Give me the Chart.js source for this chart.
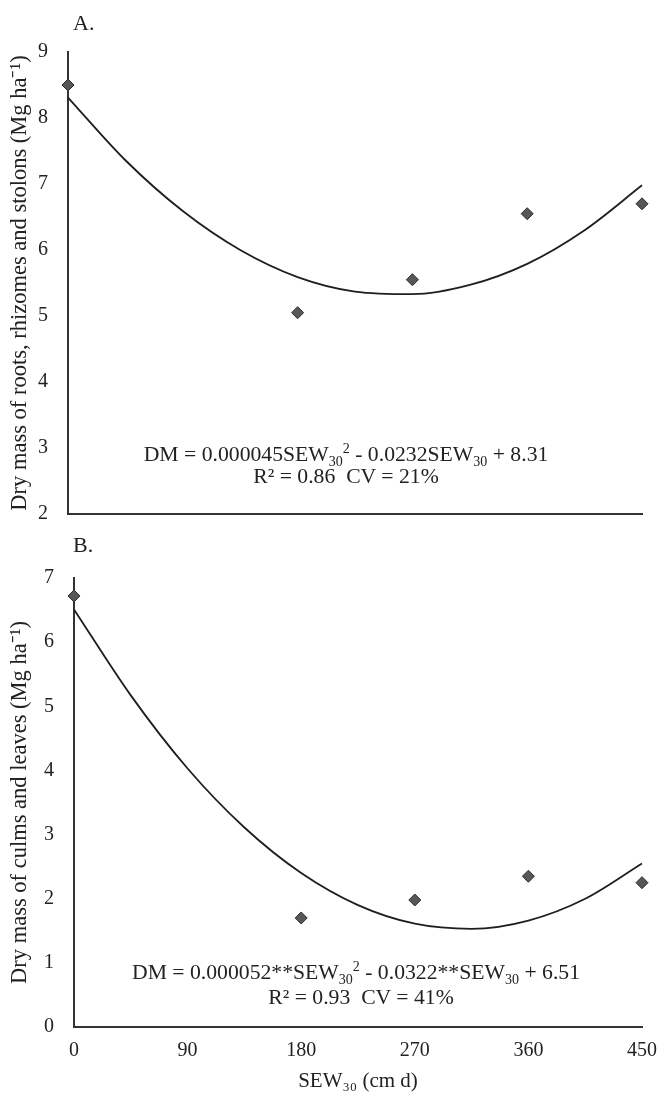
<!DOCTYPE html>
<html>
<head>
<meta charset="utf-8">
<script src="https://cdn.jsdelivr.net/npm/chart.js@4.4.1/dist/chart.umd.min.js"></script>
<style>
  html, body { margin:0; padding:0; background:#fff; }
  #wrap { position:relative; width:659px; height:1095px; font-family:'Liberation Serif','Times New Roman',serif; color:#222; }
  canvas { position:absolute; left:0; }
  .lbl { position:absolute; font-size:22px; line-height:1; }
  .eq { position:absolute; width:600px; text-align:center; font-size:21.7px; line-height:1; white-space:nowrap; }
  .eq sub { font-size:14px; vertical-align:-5px; line-height:0; }
  .eq sup { font-size:14px; vertical-align:8px; line-height:0; }
</style>
</head>
<body>
<div id="wrap">
  <canvas id="chartA" width="659" height="530" style="top:0"></canvas>
  <canvas id="chartB" width="659" height="565" style="top:530px"></canvas>
  <div class="lbl" style="left:73px;top:12px">A.</div>
  <div class="lbl" style="left:73px;top:534px">B.</div>
  <div class="eq" style="left:46px;top:444px">DM = 0.000045SEW<sub>30</sub><sup>2</sup> - 0.0232SEW<sub>30</sub> + 8.31</div>
  <div class="eq" style="left:46px;top:466px">R² = 0.86&nbsp; CV = 21%</div>
  <div class="eq" style="left:56px;top:962px">DM = 0.000052**SEW<sub>30</sub><sup>2</sup> - 0.0322**SEW<sub>30</sub> + 6.51</div>
  <div class="eq" style="left:61px;top:987px">R² = 0.93&nbsp; CV = 41%</div>
</div>
<script>
// SEW30 values (cm d) and tick labels
const xTicks = [0, 90, 180, 270, 360, 450];
const sewObs = [0, 180, 270, 360, 450];
const sewFit = [0, 45, 90, 135, 180, 225, 270, 315, 360, 405, 450];

// A. roots, rhizomes and stolons (Mg ha-1)
const rootsObs = [8.5, 5.05, 5.55, 6.55, 6.7];
const rootsFit = [8.31, 7.36, 6.59, 6.00, 5.59, 5.37, 5.33, 5.47, 5.79, 6.30, 6.98];

// B. culms and leaves (Mg ha-1)
const culmsObs = [6.72, 1.7, 1.98, 2.35, 2.25];
const culmsFit = [6.51, 5.17, 4.03, 3.11, 2.40, 1.90, 1.61, 1.53, 1.66, 2.00, 2.55];

const yTitleA = 'Dry mass of roots, rhizomes and stolons (Mg ha\u207B\u00B9)';
const yTitleB = 'Dry mass of culms and leaves (Mg ha\u207B\u00B9)';
const xTitle = 'SEW\u2083\u2080 (cm d)';

const serif = "'Liberation Serif','Times New Roman',serif";
const ink = '#222';

function toPoints(xs, ys) {
    return xs.map(function(x, i){ return {x: x, y: ys[i]}; });
}

function makeChart(id, obs, fit, yMin, yMax, yTitle, cfg) {
    var ctx = document.getElementById(id);
    return new Chart(ctx, {
        type: 'scatter',
        data: {
            datasets: [{
                data: toPoints(sewFit, fit),
                showLine: true,
                cubicInterpolationMode: 'monotone',
                borderColor: '#1e1e1e',
                borderWidth: 1.8,
                pointRadius: 0,
                clip: false
            }, {
                data: toPoints(sewObs, obs),
                pointStyle: 'rectRot',
                pointRadius: 6,
                backgroundColor: '#575757',
                borderColor: '#2a2a2a',
                borderWidth: 1,
                clip: false
            }]
        },
        options: {
            responsive: false,
            animation: false,
            devicePixelRatio: 1,
            layout: { padding: cfg.padding },
            plugins: { legend: { display: false }, tooltip: { enabled: false } },
            scales: {
                x: {
                    type: 'linear',
                    min: 0, max: 450,
                    afterBuildTicks: function(s){ s.ticks = xTicks.map(function(v){ return {value: v}; }); },
                    afterFit: function(s){
                        s.height = cfg.xHeight;
                        s.paddingLeft = 0;
                        s.paddingRight = 0;
                    },
                    grid: { display: false, drawTicks: false },
                    border: { display: true, color: '#333', width: 2 },
                    ticks: { display: cfg.showX, padding: 12, color: ink, font: { family: serif, size: 20 } },
                    title: { display: cfg.showX, text: xTitle, color: ink, padding: { top: 0, bottom: 1 }, font: { family: serif, size: 21 } }
                },
                y: {
                    min: yMin, max: yMax,
                    ticks: { stepSize: 1, padding: 20, color: ink, font: { family: serif, size: 20 } },
                    afterFit: function(s){
                        s.width = cfg.yWidth;
                        s.paddingTop = 0;
                        s.paddingBottom = 0;
                    },
                    grid: { display: false, drawTicks: false },
                    border: { display: true, color: '#333', width: 2 },
                    title: { display: true, text: yTitle, color: ink, padding: { top: 7, bottom: 0 }, font: { family: serif, size: 22.5 } }
                }
            }
        }
    });
}

var chartA = makeChart('chartA', rootsObs, rootsFit, 2, 9, yTitleA,
    { padding: { left: 0, top: 52, right: 17, bottom: 16 }, xHeight: 0, yWidth: 68, showX: false });
var chartB = makeChart('chartB', culmsObs, culmsFit, 0, 7, yTitleB,
    { padding: { left: 0, top: 48, right: 17, bottom: 0 }, xHeight: 68, yWidth: 74, showX: true });
</script>
</body>
</html>
